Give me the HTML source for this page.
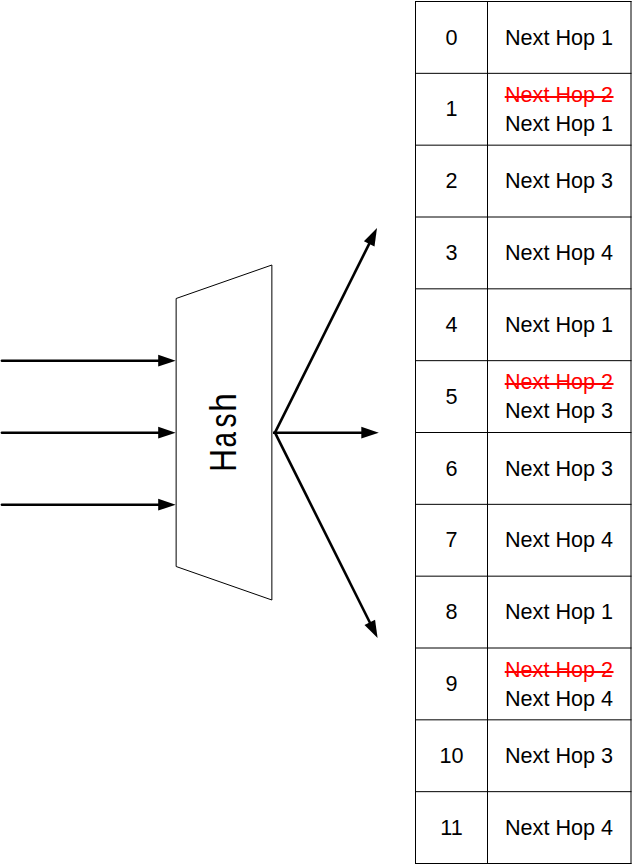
<!DOCTYPE html>
<html><head><meta charset="utf-8"><style>
html,body{margin:0;padding:0;background:#fff;}
body{width:632px;height:865px;overflow:hidden;}
svg{display:block;}
.t{font-family:"Liberation Sans",sans-serif;font-size:21.6px;text-anchor:middle;fill:#000;}
.r{fill:#ff0000;}
.h{font-family:"Liberation Sans",sans-serif;font-size:36.5px;fill:#000;}
</style></head><body>
<svg width="632" height="865" viewBox="0 0 632 865">
<rect width="632" height="865" fill="#fff"/>
<g stroke="#000" stroke-width="1" fill="none">
<line x1="415" y1="1.500" x2="631.5" y2="1.500"/>
<line x1="415" y1="73.333" x2="631.5" y2="73.333"/>
<line x1="415" y1="145.167" x2="631.5" y2="145.167"/>
<line x1="415" y1="217.000" x2="631.5" y2="217.000"/>
<line x1="415" y1="288.833" x2="631.5" y2="288.833"/>
<line x1="415" y1="360.666" x2="631.5" y2="360.666"/>
<line x1="415" y1="432.500" x2="631.5" y2="432.500"/>
<line x1="415" y1="504.333" x2="631.5" y2="504.333"/>
<line x1="415" y1="576.166" x2="631.5" y2="576.166"/>
<line x1="415" y1="648.000" x2="631.5" y2="648.000"/>
<line x1="415" y1="719.833" x2="631.5" y2="719.833"/>
<line x1="415" y1="791.666" x2="631.5" y2="791.666"/>
<line x1="415" y1="863.500" x2="631.5" y2="863.500"/>
<line x1="415.5" y1="1" x2="415.5" y2="864"/>
<line x1="487.5" y1="1" x2="487.5" y2="864"/>
<line x1="631" y1="1" x2="631" y2="864"/>
</g>
<text x="451.5" y="45" class="t">0</text>
<text x="559" y="45" class="t">Next Hop 1</text>
<text x="451.5" y="116" class="t">1</text>
<text x="559" y="102" class="t r">Next Hop 2</text>
<rect x="504.7" y="96" width="108.8" height="2" fill="#ff0000"/>
<text x="559" y="131" class="t">Next Hop 1</text>
<text x="451.5" y="188" class="t">2</text>
<text x="559" y="188" class="t">Next Hop 3</text>
<text x="451.5" y="260" class="t">3</text>
<text x="559" y="260" class="t">Next Hop 4</text>
<text x="451.5" y="332" class="t">4</text>
<text x="559" y="332" class="t">Next Hop 1</text>
<text x="451.5" y="404" class="t">5</text>
<text x="559" y="389" class="t r">Next Hop 2</text>
<rect x="504.7" y="383" width="108.8" height="2" fill="#ff0000"/>
<text x="559" y="418" class="t">Next Hop 3</text>
<text x="451.5" y="476" class="t">6</text>
<text x="559" y="476" class="t">Next Hop 3</text>
<text x="451.5" y="547" class="t">7</text>
<text x="559" y="547" class="t">Next Hop 4</text>
<text x="451.5" y="619" class="t">8</text>
<text x="559" y="619" class="t">Next Hop 1</text>
<text x="451.5" y="691" class="t">9</text>
<text x="559" y="677" class="t r">Next Hop 2</text>
<rect x="504.7" y="671" width="108.8" height="2" fill="#ff0000"/>
<text x="559" y="706" class="t">Next Hop 4</text>
<text x="451.5" y="763" class="t">10</text>
<text x="559" y="763" class="t">Next Hop 3</text>
<text x="451.5" y="835" class="t">11</text>
<text x="559" y="835" class="t">Next Hop 4</text>
<polygon points="176.14,298.5 271.86,265 271.86,600 176.14,566.5" fill="none" stroke="#000" stroke-width="1"/>
<g class="h">
<text transform="translate(236,472.0) rotate(-90) scale(0.876,1)">H</text>
<text transform="translate(236,447.6) rotate(-90) scale(0.762,1)">a</text>
<text transform="translate(236,427.6) rotate(-90) scale(0.771,1)">s</text>
<text transform="translate(236,411.8) rotate(-90) scale(0.924,1)">h</text>
</g>
<line x1="1.9" y1="360.7" x2="159.20" y2="360.70" stroke="#000" stroke-width="2.6" stroke-linecap="round"/><polygon points="175.70,360.70 158.20,366.60 158.20,354.80" fill="#000"/>
<line x1="1.9" y1="432.7" x2="159.20" y2="432.70" stroke="#000" stroke-width="2.6" stroke-linecap="round"/><polygon points="175.70,432.70 158.20,438.60 158.20,426.80" fill="#000"/>
<line x1="1.9" y1="504.7" x2="159.20" y2="504.70" stroke="#000" stroke-width="2.6" stroke-linecap="round"/><polygon points="175.70,504.70 158.20,510.60 158.20,498.80" fill="#000"/>
<line x1="275" y1="432.7" x2="369.64" y2="242.87" stroke="#000" stroke-width="2.6" stroke-linecap="butt"/><polygon points="377.00,228.10 374.47,246.39 363.91,241.13" fill="#000"/>
<line x1="273" y1="432.7" x2="362.30" y2="432.70" stroke="#000" stroke-width="2.6" stroke-linecap="butt"/><polygon points="378.80,432.70 361.30,438.60 361.30,426.80" fill="#000"/>
<line x1="275" y1="432.7" x2="370.22" y2="623.24" stroke="#000" stroke-width="2.6" stroke-linecap="butt"/><polygon points="377.60,638.00 364.50,624.98 375.05,619.71" fill="#000"/>
</svg>
</body></html>
